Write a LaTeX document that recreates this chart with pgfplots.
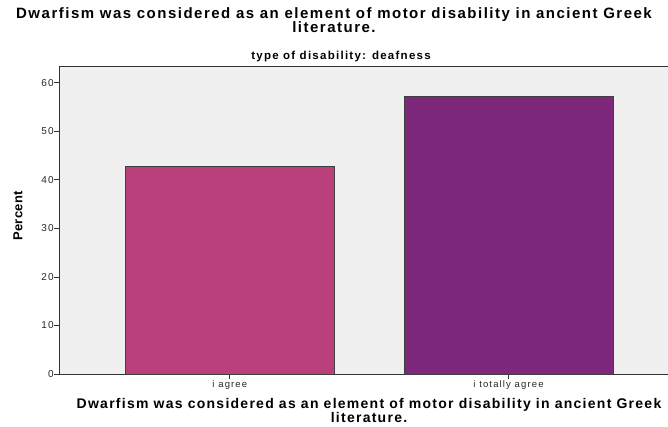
\documentclass[border=0pt]{standalone}
\usepackage{fontspec}
\setmainfont{Liberation Sans}
\newfontfamily\titlefont[LetterSpace=10]{Liberation Sans}
\newfontfamily\bottomfont[LetterSpace=9]{Liberation Sans}
\newfontfamily\subfont[LetterSpace=11]{Liberation Sans}
\newfontfamily\tickfont[LetterSpace=12]{Liberation Sans}
\newfontfamily\labfont[LetterSpace=2]{Liberation Sans}
\usepackage{pgfplots}
\pgfplotsset{compat=1.18}
\definecolor{bgc}{HTML}{F0F0F0}
\definecolor{pinkbar}{HTML}{B9407A}
\definecolor{purplebar}{HTML}{7D287B}
\begin{document}
\begin{tikzpicture}[x=1pt,y=1pt]
\useasboundingbox (0,0) rectangle (668,426);
\begin{axis}[
  at={(59.3pt,52pt)}, anchor=south west,
  scale only axis, width=619.7pt, height=307.3pt,
  xmin=-0.612, xmax=1.612, ymin=0, ymax=63.3,
  axis background/.style={fill=bgc},
  axis line style={black!80, line width=0.8pt},
  xtick={0,1}, xticklabels={i agree, i totally agree},
  ytick={0,10,20,30,40,50,60},
  xtick pos=left, ytick pos=left,
  tick align=outside, major tick length=5pt,
  tick style={black!80, line width=0.7pt},
  ticklabel style={font=\tickfont\fontsize{9.5}{10}\selectfont, text=black!85},
  /pgf/number format/assume math mode=true,
  yticklabel style={inner sep=0.5pt, font=\tickfont\fontsize{10}{10}\selectfont},
  xticklabel style={inner sep=1pt},
  ybar, bar width=0.75, bar shift=0pt,
]
\addplot[fill=pinkbar, draw=black!75, line width=0.8pt] coordinates {(0,42.86)};
\addplot[fill=purplebar, draw=black!75, line width=0.8pt] coordinates {(1,57.14)};
\end{axis}
\node[font=\labfont\fontsize{13}{13}\selectfont\bfseries, rotate=90] at (18,210) {Percent};
\node[font=\titlefont\fontsize{15}{14}\selectfont\bfseries, align=center, inner sep=0pt, anchor=north] at (334,418.5)
  {Dwarfism was considered as an element of motor disability in ancient Greek\\literature.};
\node[font=\subfont\fontsize{11.5}{12}\selectfont\bfseries, anchor=base] at (341,366) {type of disability: deafness};
\node[font=\bottomfont\fontsize{14}{11.5}\selectfont\bfseries, align=center, inner sep=0pt, anchor=south] at (369,3.5)
  {Dwarfism was considered as an element of motor disability in ancient Greek\\literature.};
\end{tikzpicture}
\end{document}
